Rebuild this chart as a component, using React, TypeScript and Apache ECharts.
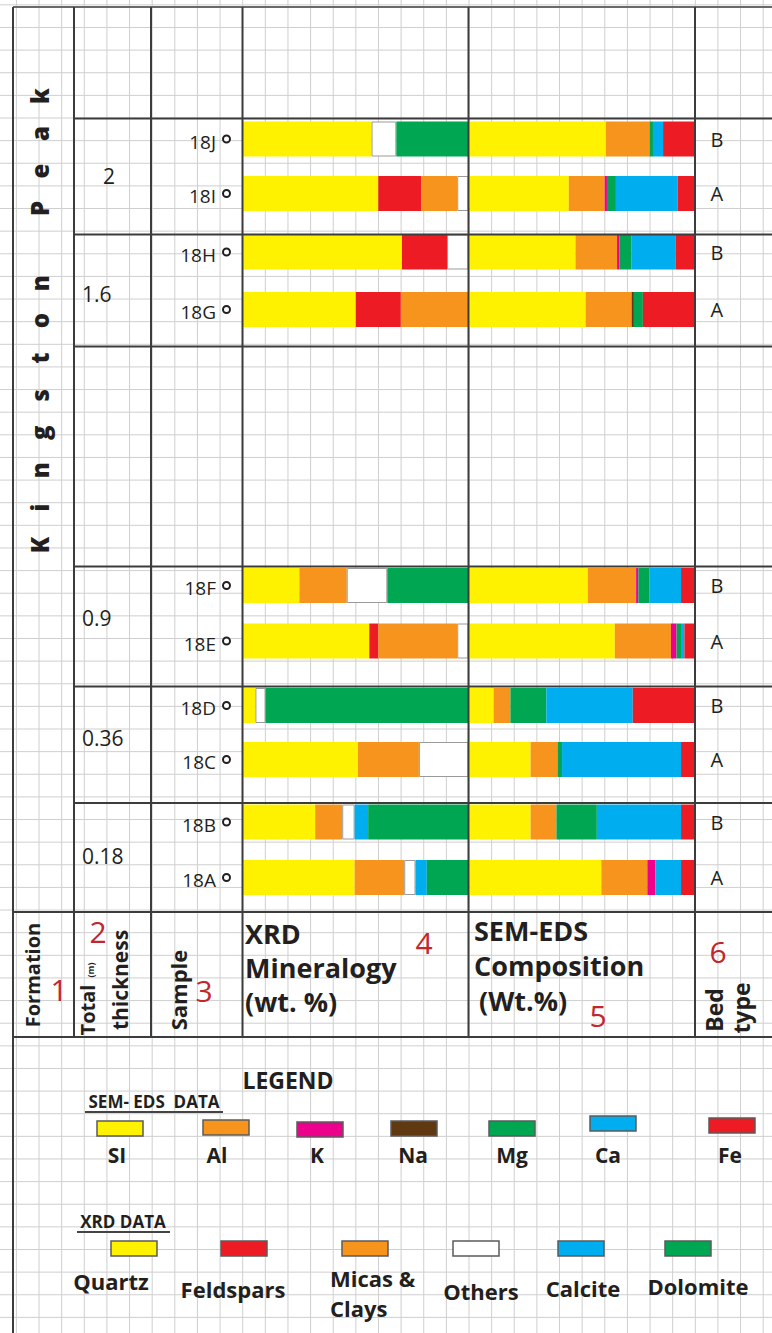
import { useEffect, useRef } from 'react';
import * as echarts from 'echarts';

// ---- data ---------------------------------------------------------------
const formationName = 'Kingston Peak';
const samples = ['18J', '18I', '18H', '18G', '18F', '18E', '18D', '18C', '18B', '18A'];
const bedTypes = ['B', 'A', 'B', 'A', 'B', 'A', 'B', 'A', 'B', 'A'];
const thicknessLabels = ['2', '1.6', '0.9', '0.36', '0.18'];

// XRD mineralogy (wt. %)
const xrdMinerals = ['Quartz', 'Feldspars', 'Micas & Clays', 'Others', 'Calcite', 'Dolomite'];
const quartz = [57, 60, 70.5, 50, 25, 56, 5.5, 51, 32, 49.5];
const feldspars = [0, 19, 20, 20, 0, 4, 0, 0, 0, 0];
const micasClays = [0, 16, 0, 30, 21, 35, 0, 27, 12, 22];
const others = [11, 5, 9.5, 0, 18, 5, 4.5, 22, 5.5, 5];
const calcite = [0, 0, 0, 0, 0, 0, 0, 0, 6, 5];
const dolomite = [32, 0, 0, 0, 36, 0, 90, 0, 44.5, 18.5];

// SEM-EDS composition (wt. %)
const semElements = ['SI', 'Al', 'K', 'Na', 'Mg', 'Ca', 'Fe'];
const si = [60.5, 44, 47, 51.5, 52.5, 64.5, 10.5, 27, 27, 58.5];
const al = [19.5, 16, 18.5, 20.5, 21.5, 25, 7.5, 12, 11.5, 20.5];
const k = [0, 1, 1, 0, 1, 2.5, 0, 0, 0, 3.5];
const na = [0, 0, 0, 1, 0, 0, 0, 0, 0, 0];
const mg = [1.5, 4, 5.5, 4, 5, 2, 16, 2, 18, 0];
const ca = [4.5, 27.5, 19.5, 0, 14, 1.5, 38.5, 53, 37.5, 11.5];
const fe = [14, 7.5, 8.5, 23, 6, 4.5, 27.5, 6, 6, 6];

const xrdValues = [quartz, feldspars, micasClays, others, calcite, dolomite];
const semValues = [si, al, k, na, mg, ca, fe];

// ---- styles & layout ----------------------------------------------------
const xrdColors = ['#fff200', '#ed1c24', '#f7941d', '#ffffff', '#00aeef', '#00a651'];
const semColors = ['#fff200', '#f7941d', '#ec008c', '#603913', '#00a651', '#00aeef', '#ed1c24'];
const FONT = "'Open Sans', 'Noto Sans', sans-serif";
const INK = '#231f20';
const RED = '#c1272d';
const LINE = '#3c3c3c';
const W = 772;
const H = 1333;

// vertical bands of the bar plots, one per thickness interval (two samples each)
const blockLayout = [
  { top: 111.75, height: 109 },
  { top: 223.25, height: 115 },
  { top: 557.75, height: 111 },
  { top: 678.5, height: 108 },
  { top: 794.25, height: 111 },
];
const thicknessPos = [
  { x: 109, y: 176, align: 'center' },
  { x: 82, y: 294, align: 'left' },
  { x: 82, y: 618, align: 'left' },
  { x: 82, y: 738, align: 'left' },
  { x: 82, y: 856, align: 'left' },
];

function text(t: string, x: number, y: number, o: any = {}) {
  return {
    type: 'text',
    x,
    y,
    rotation: o.rot || 0,
    z: 20,
    style: {
      text: t,
      fill: o.color || INK,
      fontSize: o.size || 20,
      fontWeight: o.weight || 'bold',
      fontFamily: FONT,
      align: o.align || 'left',
      verticalAlign: o.va || 'middle',
      lineHeight: o.lh,
    },
  };
}

function line(x1: number, y1: number, x2: number, y2: number, w = 2, color = LINE, z = 15) {
  return { type: 'line', z, shape: { x1, y1, x2, y2 }, style: { stroke: color, lineWidth: w } };
}

function buildGraphic() {
  const els: any[] = [];
  // background graph paper
  const P = 22.63;
  for (let x = 242.7 - Math.floor(242.7 / P) * P; x <= W; x += P) {
    els.push(line(x, 0, x, H, 1, '#cfcfcf', 0));
  }
  for (let y = 118 - Math.floor(118 / P) * P; y <= H; y += P) {
    els.push(line(0, y, W, y, 1, '#cfcfcf', 0));
  }
  // table frame
  els.push(line(13, 7, W, 7, 2, '#6a6a6a'));
  els.push(line(13, 7, 13, H, 2));
  [74, 151, 242.5, 468.5, 695].forEach((x) => els.push(line(x, 7, x, 1037)));
  [118.5, 234.5, 346.5, 566.5, 686.5, 803].forEach((y) => els.push(line(74, y, W, y)));
  [912, 1037].forEach((y) => els.push(line(13, y, W, y)));

  // formation name, written upwards with wide spacing
  const chars = formationName.split('');
  chars.forEach((c, i) => {
    if (c === ' ') return;
    els.push(
      text(c, 39, 545 - i * 37.4, { rot: Math.PI / 2, size: 24, weight: 800, align: 'center' })
    );
  });

  // thickness of each interval
  thicknessLabels.forEach((t, i) => {
    const p = thicknessPos[i];
    els.push(text(t, p.x, p.y, { size: 21, weight: 'normal', align: p.align }));
  });

  // header row
  const up = Math.PI / 2;
  els.push(text('Formation', 32, 975, { rot: up, size: 20, align: 'center' }));
  els.push(text('1', 59, 989, { size: 30, weight: 'normal', color: RED, align: 'center' }));
  els.push(text('Total', 87, 1010, { rot: up, size: 20, align: 'center' }));
  els.push(text('(m)', 90, 970, { rot: up, size: 9, align: 'center' }));
  els.push(text('2', 98, 931, { size: 30, weight: 'normal', color: RED, align: 'center' }));
  els.push(text('thickness', 120, 980, { rot: up, size: 21, align: 'center' }));
  els.push(text('Sample', 178, 990, { rot: up, size: 22, align: 'center' }));
  els.push(text('3', 204, 990, { size: 30, weight: 'normal', color: RED, align: 'center' }));
  els.push(text('XRD', 245, 933, { size: 27 }));
  els.push(text('Mineralogy', 245, 967, { size: 27 }));
  els.push(text('(wt. %)', 245, 1001, { size: 27 }));
  els.push(text('4', 424, 942, { size: 30, weight: 'normal', color: RED, align: 'center' }));
  els.push(text('SEM-EDS', 474, 930, { size: 27 }));
  els.push(text('Composition', 474, 965, { size: 27 }));
  els.push(text('(Wt.%)', 479, 1000, { size: 27 }));
  els.push(text('5', 598, 1015, { size: 30, weight: 'normal', color: RED, align: 'center' }));
  els.push(text('6', 718, 951, { size: 30, weight: 'normal', color: RED, align: 'center' }));
  els.push(text('Bed', 714, 1010, { rot: up, size: 23, align: 'center' }));
  els.push(text('type', 741, 1008, { rot: up, size: 23, align: 'center' }));

  // legend
  els.push(text('LEGEND', 288, 1080, { size: 23, align: 'center' }));
  els.push(text('SEM- EDS  DATA', 154, 1101, { size: 17, align: 'center' }));
  els.push(line(85, 1112, 223, 1112, 2, '#444'));
  const semSwatchX = [97, 203, 297, 391, 489, 590, 709];
  const semSwatchY = [1121, 1120, 1122, 1121, 1121, 1116, 1118];
  const semLabelX = [117, 217, 317, 413, 512, 608, 730];
  semElements.forEach((name, i) => {
    els.push({
      type: 'rect',
      z: 20,
      shape: { x: semSwatchX[i], y: semSwatchY[i], width: 46, height: 15 },
      style: { fill: semColors[i], stroke: '#5b5b5b', lineWidth: 1.5 },
    });
    els.push(text(name, semLabelX[i], 1155, { size: 21, align: 'center' }));
  });

  els.push(text('XRD DATA', 123, 1221, { size: 17, align: 'center' }));
  els.push(line(77, 1232, 170, 1232, 2, '#444'));
  const xrdSwatchX = [111, 221, 342, 453, 558, 665];
  const xrdLabelX = [111, 233, 330, 481, 583, 698];
  const xrdLabelY = [1281, 1289, 1293, 1291, 1288, 1286];
  xrdMinerals.forEach((name, i) => {
    els.push({
      type: 'rect',
      z: 20,
      shape: { x: xrdSwatchX[i], y: 1241, width: 46, height: 15 },
      style: { fill: xrdColors[i], stroke: '#5b5b5b', lineWidth: 1.5 },
    });
    els.push(
      text(name.replace(' & ', ' &\n'), xrdLabelX[i], xrdLabelY[i], {
        size: 22,
        align: i === 2 ? 'left' : 'center',
        lh: 30,
      })
    );
  });
  return els;
}

function buildOption() {
  const grid: any[] = [];
  const xAxis: any[] = [];
  const yAxis: any[] = [];
  const series: any[] = [];

  blockLayout.forEach((b, bi) => {
    const idx = [bi * 2, bi * 2 + 1];

    // XRD panel
    const gx = grid.length;
    grid.push({ left: 243, width: 225.5, top: b.top, height: b.height });
    xAxis.push({ type: 'value', gridIndex: gx, min: 0, max: 100, show: false });
    yAxis.push({
      type: 'category',
      gridIndex: gx,
      inverse: true,
      data: idx.map((i) => samples[i]),
      axisLine: { show: false },
      axisTick: { show: false },
      splitLine: { show: false },
      axisLabel: {
        margin: 14,
        formatter: (v: string) => `{s|${v}}{c| }`,
        rich: {
          s: { fontFamily: FONT, fontSize: 19, color: INK, padding: [5, 8, 0, 0] },
          c: {
            width: 5,
            height: 5,
            borderRadius: 5,
            borderWidth: 2,
            borderColor: INK,
            backgroundColor: '#ffffff',
          },
        },
      },
    });
    xrdValues.forEach((vals, m) => {
      series.push({
        type: 'bar',
        name: xrdMinerals[m],
        xAxisIndex: gx,
        yAxisIndex: gx,
        stack: 'xrd' + bi,
        barWidth: 35,
        data: idx.map((i) => (vals[i] ? vals[i] : null)),
        itemStyle:
          m === 3
            ? { color: xrdColors[m], borderColor: '#9a9a9a', borderWidth: 1 }
            : { color: xrdColors[m] },
      });
    });

    // SEM-EDS panel
    const gs = grid.length;
    grid.push({ left: 470, width: 224.5, top: b.top, height: b.height });
    xAxis.push({ type: 'value', gridIndex: gs, min: 0, max: 100, show: false });
    yAxis.push({
      type: 'category',
      gridIndex: gs,
      inverse: true,
      position: 'right',
      data: idx.map((i) => bedTypes[i]),
      axisLine: { show: false },
      axisTick: { show: false },
      splitLine: { show: false },
      axisLabel: {
        margin: 16,
        align: 'left',
        fontFamily: FONT,
        fontSize: 20,
        color: INK,
        padding: [0, 0, 7, 0],
      },
    });
    semValues.forEach((vals, m) => {
      series.push({
        type: 'bar',
        name: semElements[m],
        xAxisIndex: gs,
        yAxisIndex: gs,
        stack: 'sem' + bi,
        barWidth: 35,
        data: idx.map((i) => (vals[i] ? vals[i] : null)),
        itemStyle: { color: semColors[m] },
      });
    });
  });

  return {
    animation: false,
    backgroundColor: '#ffffff',
    grid,
    xAxis,
    yAxis,
    series,
    graphic: { elements: buildGraphic() },
  };
}

export default function App() {
  const ref = useRef<HTMLDivElement>(null);
  useEffect(() => {
    document.body.style.margin = '0';
    const chart = echarts.init(ref.current!, null, { renderer: 'svg' });
    chart.setOption(buildOption());
    return () => chart.dispose();
  }, []);
  return <div ref={ref} style={{ width: W, height: H }} />;
}
